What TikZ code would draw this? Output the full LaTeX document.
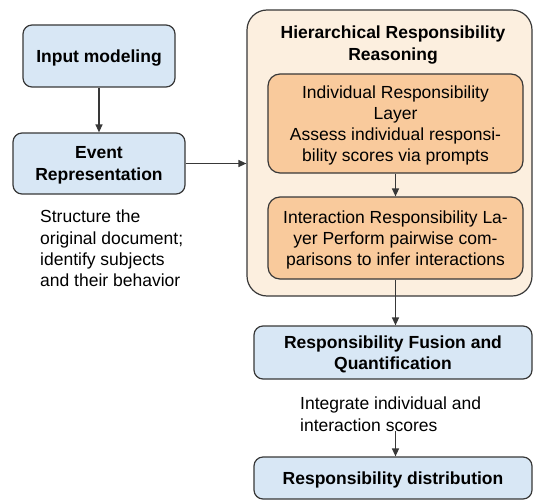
\documentclass[tikz,border=0pt]{standalone}
\usepackage{fontspec}
\setmainfont{Liberation Sans}
\usepackage{xcolor}
\usepackage{tikz}
\usetikzlibrary{arrows.meta}
\definecolor{boxblue}{HTML}{D8E7F5}
\definecolor{boxorange}{HTML}{F9CA9C}
\definecolor{boxcream}{HTML}{FCEFDF}
\definecolor{edgegray}{HTML}{383838}
\newcommand{\diagfont}{\fontsize{17.5}{21.2}\selectfont}
\tikzset{
  stage/.style = {draw=edgegray, line width=1.2pt, fill=boxblue, text depth=0pt,
    rounded corners=9pt, align=center, font=\diagfont\bfseries},
  layer/.style = {draw=edgegray, line width=1.2pt, fill=boxorange, text depth=0pt,
    rounded corners=12pt, align=center, font=\diagfont},
  group/.style = {draw=edgegray, line width=1.2pt, fill=boxcream,
    rounded corners=20pt},
  note/.style = {align=left, inner sep=0pt, anchor=north west, font=\diagfont},
  flow/.style = {-{Triangle[length=8pt,width=7pt]}, draw=edgegray, line width=1.3pt}
}

\begin{document}
\begin{tikzpicture}[x=1pt, y=-1pt]
  \useasboundingbox (0,0) rectangle (534,500);
  %%% left column
  \node[stage, minimum width=152pt, minimum height=62pt] (input) at (99,56) {Input modeling};
  \node[stage, minimum width=172pt, minimum height=61pt] (event) at (99,163.5) {Event\\Representation};
  \node[note] (eventnote) at (40,210) {Structure the\\original document;\\identify subjects\\and their behavior};
  %
  \draw[flow] (input.south) -- (event.north);
  %%% hierarchical reasoning
  \node[group, minimum width=285pt, minimum height=286pt] (hrr) at (389.5,153) {};
  \node[font=\diagfont\bfseries, align=center] (hrrtitle) at (393,45) {Hierarchical Responsibility\\Reasoning};
  \node[layer, minimum width=255pt, minimum height=99pt] (indiv) at (395.5,123.5)
    {Individual Responsibility\\Layer\\Assess individual responsi-\\bility scores via prompts};
  \node[layer, minimum width=255pt, minimum height=82pt] (inter) at (395.5,238)
    {Interaction Responsibility La-\\yer Perform pairwise com-\\parisons to infer interactions};
  %
  \draw[flow] (event.east) -- (hrr.west |- event.east);
  \draw[flow] (indiv.south) -- (inter.north);
  %%% fusion and output
  \node[stage, minimum width=278pt, minimum height=53pt] (fusion) at (393,352.5) {Responsibility Fusion and\\Quantification};
  \node[note] (fusionnote) at (300,397) {Integrate individual and\\interaction scores};
  \node[stage, minimum width=278pt, minimum height=42pt] (dist) at (393,478) {Responsibility distribution};
  %
  \draw[flow] (inter.south) -- (fusion.north -| inter.south);
  \draw[flow] (fusionnote.south -| inter.south) -- (dist.north -| inter.south);
\end{tikzpicture}
\end{document}
